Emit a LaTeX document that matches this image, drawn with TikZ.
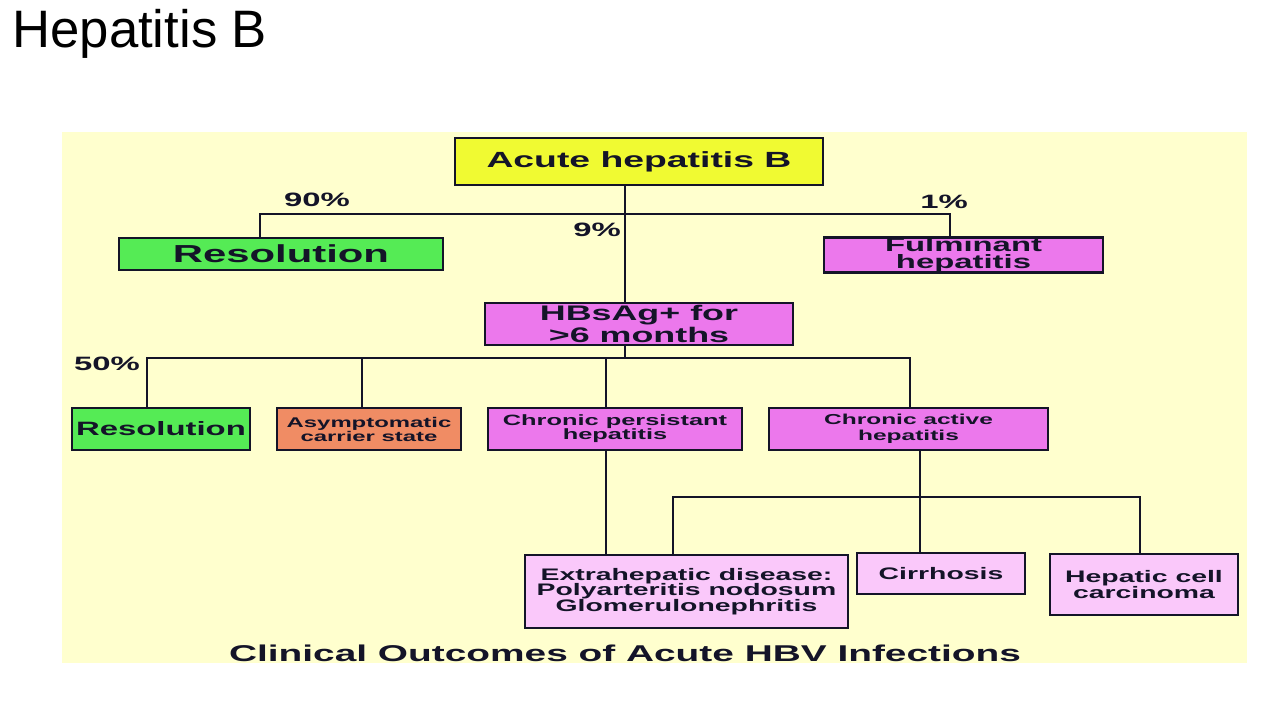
\documentclass[tikz,border=0pt]{standalone}
\usepackage{fontspec}
\setmainfont{Liberation Sans}
\newfontfamily\chartfont{Liberation Sans}[FakeStretch=1.7]
\definecolor{panel}{RGB}{255,255,206}
\definecolor{boxline}{RGB}{20,20,40}
\definecolor{acutefill}{RGB}{240,250,50}
\definecolor{greenfill}{RGB}{85,235,85}
\definecolor{pinkfill}{RGB}{236,120,236}
\definecolor{lightpink}{RGB}{250,200,250}
\definecolor{orangefill}{RGB}{240,140,100}

\begin{document}
\begin{tikzpicture}[x=0.02cm,y=-0.02cm,
  box/.style={draw=boxline,line width=1.6pt,inner sep=0pt,align=center,text=boxline},
  link/.style={draw=boxline,line width=1.6pt},
  pct/.style={anchor=base,inner sep=0pt,text=boxline,font=\chartfont\bfseries\fontsize{11}{13}\selectfont}]
  \useasboundingbox (0,0) rectangle (1280,720);
  \node[anchor=base west,inner sep=0pt,font=\fontsize{30}{34}\selectfont] (title) at (12,47) {Hepatitis B};
  \fill[panel] (62,132) rectangle (1247,663);

  % first split
  \node[box,fill=acutefill,minimum width=7.36cm,minimum height=0.94cm,font=\chartfont\bfseries\fontsize{12.5}{15}\selectfont] (acute) at (639,161.5) {Acute hepatitis B};
  \node[box,fill=greenfill,minimum width=6.48cm,minimum height=0.64cm,font=\chartfont\bfseries\fontsize{14}{16}\selectfont] (res1) at (281,254) {Resolution};
  \node[box,fill=pinkfill,minimum width=5.58cm,minimum height=0.66cm,font=\chartfont\bfseries\fontsize{11}{9.6}\selectfont] (ful) at (963.5,255) {Fulminant\\hepatitis};
  \node[box,fill=pinkfill,minimum width=6.16cm,minimum height=0.84cm,font=\chartfont\bfseries\fontsize{12}{10.8}\selectfont] (hbs) at (639,324) {HBsAg+ for\\>6 months};

  % second split
  \node[box,fill=greenfill,minimum width=3.56cm,minimum height=0.84cm,font=\chartfont\bfseries\fontsize{11}{13}\selectfont] (res2) at (161,429) {Resolution};
  \node[box,fill=orangefill,minimum width=3.68cm,minimum height=0.84cm,font=\chartfont\bfseries\fontsize{8}{8}\selectfont] (asym) at (369,429) {Asymptomatic\\carrier state};
  \node[box,fill=pinkfill,minimum width=5.08cm,minimum height=0.84cm,font=\chartfont\bfseries\fontsize{8.5}{8}\selectfont] (cph) at (615,429) {Chronic persistant\\hepatitis};
  \node[box,fill=pinkfill,minimum width=5.58cm,minimum height=0.84cm,font=\chartfont\bfseries\fontsize{8.2}{9}\selectfont] (cah) at (908.5,429) {Chronic active\\hepatitis};

  % third split
  \node[box,fill=lightpink,minimum width=6.46cm,minimum height=1.46cm,font=\chartfont\bfseries\fontsize{9.5}{9}\selectfont] (extra) at (686.5,591.5) {Extrahepatic disease:\\Polyarteritis nodosum\\Glomerulonephritis};
  \node[box,fill=lightpink,minimum width=3.36cm,minimum height=0.82cm,font=\chartfont\bfseries\fontsize{9.5}{9}\selectfont] (cirr) at (941,573.5) {Cirrhosis};
  \node[box,fill=lightpink,minimum width=3.76cm,minimum height=1.22cm,font=\chartfont\bfseries\fontsize{9.5}{9}\selectfont] (hcc) at (1144,584.5) {Hepatic cell\\carcinoma};

  % connectors
  \coordinate (trunk) at (625,214);
  \coordinate (b90) at (260,214);
  \coordinate (b1) at (950,214);
  \draw[link] (acute.south -| trunk) -- (hbs.north -| trunk);
  \draw[link] (res1.north -| b90) -- (b90) -- (b1) -- (ful.north -| b1);

  \coordinate (fork) at (625,358);
  \coordinate (b50) at (147,358);
  \coordinate (bcah) at (910,358);
  \draw[link] (hbs.south -| fork) -- (fork);
  \draw[link] (res2.north -| b50) -- (b50) -- (bcah) -- (cah.north -| bcah);
  \draw[link] (asym.north -| 362,0) -- (362,358);
  \draw[link] (cph.north -| 606,0) -- (606,358);
  \draw[link] (cph.south -| 606,0) -- (extra.north -| 606,0);

  \coordinate (fork2) at (920,497);
  \coordinate (bext) at (673,497);
  \coordinate (bhcc) at (1140,497);
  \draw[link] (cah.south -| fork2) -- (cirr.north -| fork2);
  \draw[link] (extra.north -| bext) -- (bext) -- (bhcc) -- (hcc.north -| bhcc);

  % labels
  \node[pct] (p90) at (317,206) {90\%};
  \node[pct] (p9) at (597,236) {9\%};
  \node[pct] (p1) at (944,208) {1\%};
  \node[pct] (p50) at (107,370) {50\%};
  \node[anchor=base,inner sep=0pt,text=boxline,font=\chartfont\bfseries\fontsize{13}{15}\selectfont] (caption) at (625,661) {Clinical Outcomes of Acute HBV Infections};
\end{tikzpicture}
\end{document}
